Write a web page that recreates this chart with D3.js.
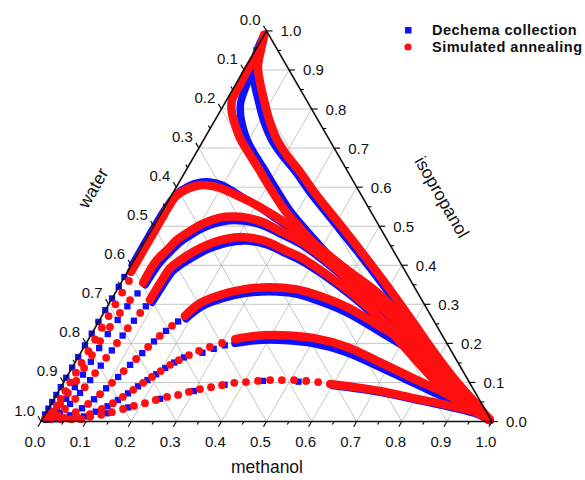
<!DOCTYPE html>
<html>
<head>
<meta charset="utf-8">
<script src="https://cdn.jsdelivr.net/npm/d3@7"></script>
<style>
  body { margin: 0; background: #fff; }
  text { font-family: "Liberation Sans", Arial, sans-serif; fill: #111; }
</style>
</head>
<body>
<svg id="chart" width="585" height="480"></svg>
<script>
// compositions are [methanol, isopropanol]; water = 1 - methanol - isopropanol
const tickValues = d3.range(0, 1.0001, 0.05)
const tickLabels = ["0.0","0.1","0.2","0.3","0.4","0.5","0.6","0.7","0.8","0.9","1.0"]
const seriesNames = ["Dechema collection", "Simulated annealing"]

// simulated annealing, continuous (dense) stretches of each curve
const annealBands = [
  [[0.0,0.99],[0.012,0.951],[0.027,0.908],[0.051,0.869],[0.083,0.823],[0.124,0.767],[0.163,0.721],[0.204,0.682],[0.255,0.639],[0.315,0.585],[0.391,0.521],[0.488,0.439],[0.585,0.355],[0.686,0.265],[0.806,0.157],[0.902,0.076],[0.993,0.004]],
  [[0.0,0.99],[0.008,0.951],[0.008,0.90],[0.01,0.86],[0.012,0.823],[0.027,0.792],[0.051,0.759],[0.078,0.726],[0.109,0.695],[0.157,0.649],[0.209,0.598],[0.270,0.541],[0.327,0.495],[0.399,0.439],[0.472,0.383],[0.563,0.311],[0.657,0.234],[0.768,0.145],[0.873,0.068],[0.993,0.004]],
  [[0.008,0.383],[0.008,0.419],[0.008,0.452],[0.008,0.485],[0.008,0.518],[0.008,0.549],[0.010,0.575],[0.023,0.593],[0.042,0.603],[0.065,0.605],[0.098,0.598],[0.154,0.575],[0.205,0.552],[0.250,0.529],[0.302,0.500],[0.375,0.457],[0.485,0.388],[0.590,0.324],[0.733,0.214],[0.869,0.099],[0.993,0.004]],
  [[0.049,0.355],[0.048,0.388],[0.050,0.413],[0.060,0.439],[0.069,0.465],[0.087,0.488],[0.101,0.503],[0.121,0.516],[0.146,0.524],[0.180,0.524],[0.229,0.513],[0.286,0.488],[0.343,0.462],[0.405,0.426],[0.495,0.367],[0.602,0.298],[0.745,0.191],[0.874,0.088],[0.993,0.004]],
  [[0.086,0.311],[0.087,0.355],[0.090,0.393],[0.102,0.413],[0.120,0.434],[0.142,0.452],[0.174,0.467],[0.216,0.472],[0.266,0.462],[0.321,0.439],[0.364,0.421],[0.425,0.388],[0.519,0.332],[0.619,0.265],[0.755,0.170],[0.878,0.081],[0.993,0.004]],
  [[0.184,0.270],[0.201,0.303],[0.235,0.324],[0.283,0.339],[0.336,0.344],[0.394,0.339],[0.444,0.326],[0.532,0.293],[0.629,0.244],[0.729,0.191],[0.838,0.124],[0.937,0.050],[0.993,0.004]],
  [[0.325,0.211],[0.365,0.219],[0.419,0.221],[0.496,0.214],[0.583,0.191],[0.675,0.152],[0.769,0.111],[0.865,0.070],[0.955,0.027],[0.993,0.004]],
  [[0.593,0.096],[0.652,0.088],[0.713,0.078],[0.795,0.060],[0.879,0.042],[0.958,0.022],[0.993,0.004]]
]

// Dechema collection, continuous stretches
const dechemaBands = [
  [[0.0,0.985],[0.004,0.951],[0.016,0.908],[0.038,0.869],[0.07,0.823],[0.111,0.767],[0.151,0.721],[0.193,0.682],[0.245,0.639],[0.305,0.585],[0.381,0.521],[0.479,0.439],[0.577,0.355],[0.679,0.265],[0.8,0.157],[0.897,0.076],[0.99,0.004]],
  [[0.006,0.975],[0.015,0.93],[0.022,0.88],[0.028,0.845],[0.035,0.815],[0.05,0.785],[0.07,0.755],[0.095,0.723],[0.124,0.692],[0.169,0.649],[0.221,0.598],[0.281,0.541],[0.337,0.495],[0.408,0.439],[0.48,0.383],[0.57,0.311],[0.663,0.234],[0.773,0.145],[0.876,0.068],[0.99,0.004]],
  [[0.002,0.40],[0.002,0.45],[0.002,0.50],[0.004,0.55],[0.01,0.583],[0.025,0.602],[0.045,0.612],[0.068,0.613],[0.1,0.605],[0.16,0.574],[0.213,0.547],[0.26,0.52],[0.312,0.491],[0.386,0.448],[0.496,0.379],[0.6,0.315],[0.741,0.206],[0.874,0.094],[0.99,0.004]],
  [[0.056,0.35],[0.058,0.385],[0.061,0.41],[0.07,0.436],[0.08,0.46],[0.097,0.481],[0.112,0.495],[0.133,0.507],[0.159,0.514],[0.193,0.513],[0.24,0.502],[0.296,0.478],[0.353,0.452],[0.415,0.415],[0.505,0.357],[0.61,0.289],[0.751,0.183],[0.877,0.083],[0.99,0.004]],
  [[0.094,0.305],[0.096,0.348],[0.1,0.385],[0.112,0.404],[0.13,0.424],[0.152,0.442],[0.184,0.457],[0.226,0.462],[0.275,0.452],[0.33,0.429],[0.374,0.41],[0.435,0.377],[0.528,0.321],[0.627,0.255],[0.761,0.162],[0.881,0.076],[0.99,0.004]],
  [[0.19,0.263],[0.209,0.294],[0.243,0.314],[0.29,0.328],[0.343,0.332],[0.402,0.326],[0.453,0.311],[0.542,0.277],[0.637,0.229],[0.736,0.177],[0.843,0.112],[0.94,0.043],[0.99,0.004]],
  [[0.33,0.2],[0.37,0.207],[0.424,0.208],[0.501,0.2],[0.588,0.177],[0.679,0.14],[0.772,0.1],[0.867,0.06],[0.956,0.021],[0.99,0.004]],
  [[0.6,0.092],[0.658,0.084],[0.718,0.074],[0.8,0.056],[0.882,0.038],[0.96,0.018],[0.99,0.004]]
]

// single, separated points near the water corner
const annealDots = [
  [0.015,0.36],[0.015,0.33],[0.015,0.30],[0.015,0.27],[0.015,0.24],[0.015,0.21],[0.015,0.18],[0.015,0.15],[0.015,0.125],[0.015,0.10],[0.015,0.078],[0.015,0.058],[0.015,0.040],[0.015,0.025],[0.012,0.012],
  [0.042,0.311],[0.036,0.278],[0.032,0.242],[0.028,0.206],[0.028,0.170],[0.027,0.137],[0.026,0.104],[0.023,0.073],[0.020,0.045],[0.013,0.022],
  [0.081,0.278],[0.073,0.239],[0.068,0.201],[0.063,0.163],[0.058,0.124],[0.053,0.088],[0.047,0.058],[0.037,0.032],[0.024,0.014],
  [0.168,0.245],[0.154,0.219],[0.142,0.191],[0.131,0.160],[0.119,0.129],[0.108,0.099],[0.096,0.070],[0.082,0.045],[0.065,0.024],[0.047,0.009],
  [0.301,0.201],[0.279,0.191],[0.260,0.181],[0.243,0.170],[0.227,0.157],[0.214,0.145],[0.201,0.129],[0.189,0.114],[0.177,0.099],[0.164,0.081],[0.150,0.063],[0.136,0.047],[0.119,0.032],[0.099,0.019],[0.078,0.009],
  [0.564,0.101],[0.536,0.104],[0.508,0.106],[0.481,0.106],[0.455,0.106],[0.429,0.104],[0.404,0.101],[0.379,0.099],[0.355,0.093],[0.333,0.088],[0.311,0.083],[0.290,0.076],[0.270,0.068],[0.248,0.063],[0.227,0.055],[0.207,0.047],[0.186,0.040],[0.166,0.032],[0.145,0.024],[0.125,0.017],[0.103,0.012],
  [0.086,0.006],[0.064,0.006],[0.042,0.006],[0.02,0.006],[0.03,0.015],[0.005,0.008]
]

const dechemaDots = [
  [0.0,0.37],[0.0,0.345],[0.0,0.315],[0.0,0.285],[0.0,0.255],[0.0,0.225],[0.0,0.195],[0.0,0.165],[0.0,0.138],[0.0,0.112],[0.0,0.088],[0.0,0.068],[0.0,0.05],[0.0,0.033],[0.0,0.018],
  [0.05,0.328],[0.044,0.295],[0.04,0.26],[0.036,0.224],[0.035,0.188],[0.034,0.153],[0.033,0.12],[0.031,0.088],[0.027,0.058],[0.02,0.032],[0.01,0.012],
  [0.085,0.295],[0.077,0.258],[0.071,0.22],[0.066,0.182],[0.061,0.143],[0.056,0.106],[0.05,0.073],[0.042,0.045],[0.031,0.022],
  [0.176,0.256],[0.161,0.232],[0.148,0.205],[0.137,0.175],[0.125,0.145],[0.114,0.114],[0.102,0.085],[0.089,0.057],[0.074,0.034],[0.056,0.016],
  [0.31,0.195],[0.29,0.186],[0.27,0.176],[0.235,0.164],[0.22,0.151],[0.207,0.137],[0.195,0.121],[0.183,0.106],[0.17,0.09],[0.157,0.072],[0.143,0.055],[0.128,0.039],[0.109,0.025],[0.089,0.013],
  [0.52,0.102],[0.44,0.104],[0.36,0.094],[0.3,0.078],[0.235,0.058],[0.175,0.036],[0.135,0.021],
  [0.075,0.008],[0.053,0.007],[0.031,0.006],[0.01,0.004]
]

const width = 585, height = 480
const svg = d3.select("#chart")

const side = 451
const x = d3.scaleLinear().domain([0, 1]).range([41, 41 + side])
const y = d3.scaleLinear().domain([0, 1]).range([421.5, 421.5 - side * Math.sqrt(3) / 2])
// ternary -> screen
const P = (m, i) => [x(m + i / 2), y(i)]

const blue = "#1010ff", red = "#ff0f0f"

// grid
const grid = svg.append("g").attr("stroke", "#b8b8b8").attr("stroke-width", 0.8).attr("fill", "none")
d3.range(1, 10).map(k => k / 10).forEach(v => {
  const segs = [
    [P(0, v), P(1 - v, v)],          // isopropanol constant
    [P(v, 0), P(v, 1 - v)],          // methanol constant
    [P(0, 1 - v), P(1 - v, 0)]       // water constant
  ]
  segs.forEach(s => grid.append("line")
    .attr("x1", s[0][0]).attr("y1", s[0][1]).attr("x2", s[1][0]).attr("y2", s[1][1]))
})

// data
const line = d3.line().x(d => P(d[0], d[1])[0]).y(d => P(d[0], d[1])[1]).curve(d3.curveCatmullRom)

svg.append("g").selectAll("path").data(dechemaBands).enter().append("path")
  .attr("d", line).attr("fill", "none").attr("stroke", blue)
  .attr("stroke-width", 7.5).attr("stroke-linecap", "round").attr("stroke-linejoin", "round")

svg.append("g").selectAll("path").data(dechemaDots).enter().append("path")
  .attr("d", d3.symbol(d3.symbolSquare, 40))
  .attr("transform", d => "translate(" + P(d[0], d[1]) + ")")
  .attr("fill", blue)

svg.append("g").selectAll("path").data(annealBands).enter().append("path")
  .attr("d", line).attr("fill", "none").attr("stroke", red)
  .attr("stroke-width", 8.5).attr("stroke-linecap", "round").attr("stroke-linejoin", "round")

svg.append("g").selectAll("circle").data(annealDots).enter().append("circle")
  .attr("cx", d => P(d[0], d[1])[0]).attr("cy", d => P(d[0], d[1])[1])
  .attr("r", 3.9).attr("fill", red)

// axes
const axes = svg.append("g").attr("stroke", "#111").attr("fill", "none")
axes.append("path")
  .attr("d", "M" + P(0, 0) + "L" + P(1, 0) + "L" + P(0, 1) + "Z")
  .attr("stroke-width", 1.6).attr("stroke-linejoin", "miter")

const c60 = 0.5, s60 = Math.sqrt(3) / 2
tickValues.forEach((v, k) => {
  const len = k % 2 === 0 ? 6 : 3.5
  const b = P(v, 0), r = P(1 - v, v), l = P(0, 1 - v)
  axes.append("line").attr("x1", b[0]).attr("y1", b[1])
    .attr("x2", b[0] - c60 * len).attr("y2", b[1] + s60 * len).attr("stroke-width", 1.2)
  axes.append("line").attr("x1", r[0]).attr("y1", r[1])
    .attr("x2", r[0] + len).attr("y2", r[1]).attr("stroke-width", 1.2)
  axes.append("line").attr("x1", l[0]).attr("y1", l[1])
    .attr("x2", l[0] - c60 * len).attr("y2", l[1] - s60 * len).attr("stroke-width", 1.2)
})

const labels = svg.append("g").attr("font-size", 15)
tickLabels.forEach((t, k) => {
  const v = k / 10
  const b = P(v, 0), r = P(1 - v, v), l = P(0, 1 - v)
  labels.append("text").attr("x", b[0] - 6).attr("y", 447).attr("text-anchor", "middle").text(t)
  labels.append("text").attr("x", r[0] + 14).attr("y", r[1] + 5.5).attr("text-anchor", "start").text(t)
  labels.append("text").attr("x", l[0] - 6).attr("y", l[1] - 6).attr("text-anchor", "end").text(t)
})

// axis titles
svg.append("text").attr("x", 267).attr("y", 473).attr("text-anchor", "middle")
  .attr("font-size", 17.5).text("methanol")
svg.append("text").attr("transform", "translate(93,188) rotate(-60)").attr("text-anchor", "middle")
  .attr("dy", "0.35em").attr("font-size", 17.5).text("water")
svg.append("text").attr("transform", "translate(442,197) rotate(60)").attr("text-anchor", "middle")
  .attr("dy", "0.35em").attr("font-size", 17.5).text("isopropanol")

// legend
const legend = svg.append("g").attr("font-size", 14.5).attr("font-weight", "bold")
legend.append("rect").attr("x", 405).attr("y", 27).attr("width", 6.5).attr("height", 6.5).attr("fill", blue)
legend.append("circle").attr("cx", 408).attr("cy", 47).attr("r", 3.6).attr("fill", red)
legend.append("text").attr("x", 432).attr("y", 35).attr("letter-spacing", 0.5).text(seriesNames[0])
legend.append("text").attr("x", 432).attr("y", 52).attr("letter-spacing", 0.5).text(seriesNames[1])
</script>
</body>
</html>
